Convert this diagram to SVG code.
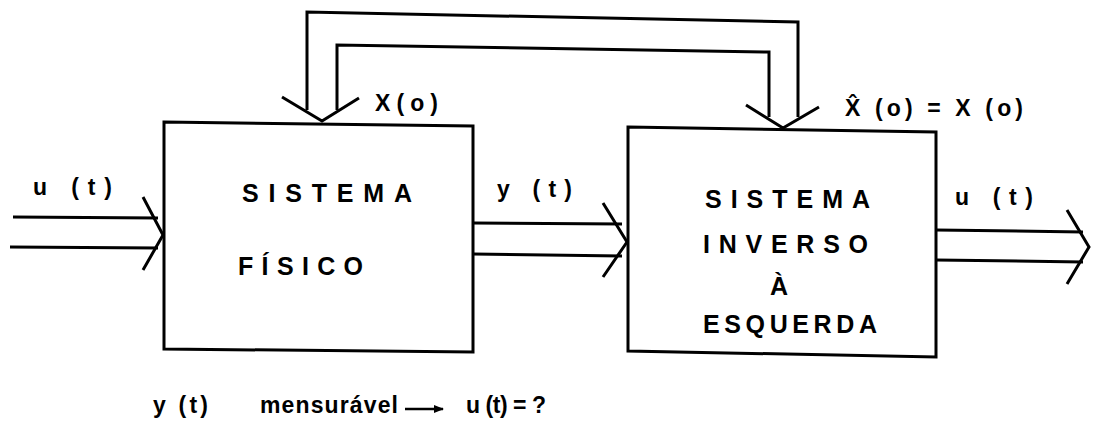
<svg xmlns="http://www.w3.org/2000/svg" width="1097" height="432" viewBox="0 0 1097 432">
<style>
.ln{fill:none;stroke:#000;stroke-width:3;stroke-linejoin:miter;stroke-linecap:butt}
.box{fill:none;stroke:#000;stroke-width:3}
.t{font-family:"Liberation Sans",Arial,sans-serif;font-weight:bold;fill:#000}
.big{font-size:25px}
.lab{font-size:23px}
</style>
<defs>
<marker id="sm" viewBox="0 0 10 10" refX="9" refY="5" markerWidth="4" markerHeight="4" orient="auto" markerUnits="strokeWidth">
<path d="M0,1 L10,5 L0,9 z" fill="#000"/>
</marker>
</defs>
<rect width="1097" height="432" fill="#fff"/>

<g id="connectors">
<!-- feedback outer -->
<polyline class="ln" points="307,110 307,12 798,22 798,117"/>
<!-- feedback inner -->
<polyline class="ln" points="337,110 337,45 769,52 769,117"/>
<polyline class="ln" points="282,97 322,121 359,98"/>
<polyline class="ln" points="746,105 783,128 819,107"/>
<!-- input -->
<line class="ln" x1="13" y1="217" x2="158" y2="218"/>
<line class="ln" x1="10" y1="247" x2="158" y2="248"/>
<polyline class="ln" points="143,197 163,235 143,270"/>
<!-- middle -->
<line class="ln" x1="473" y1="223" x2="622" y2="224"/>
<line class="ln" x1="473" y1="254" x2="622" y2="256"/>
<polyline class="ln" points="603,203 627,242 603,277"/>
<!-- output -->
<line class="ln" x1="936" y1="230" x2="1083" y2="232"/>
<line class="ln" x1="936" y1="260" x2="1083" y2="262"/>
<polyline class="ln" points="1067,210 1089,247 1067,284"/>
<!-- bottom arrow -->
<line x1="405" y1="409" x2="443" y2="409" stroke="#000" stroke-width="2.5" marker-end="url(#sm)"/>
</g>

<g id="sistema-fisico">
<polygon class="box" points="164,122 473,126 473,352 164,349"/>
<text class="t big" x="242" y="202" textLength="170" lengthAdjust="spacing">SISTEMA</text>
<text class="t big" x="238" y="275" textLength="125" lengthAdjust="spacing">FÍSICO</text>
</g>

<g id="sistema-inverso">
<polygon class="box" points="628,127 936,132 936,357 628,351"/>
<text class="t big" x="705" y="208" textLength="165" lengthAdjust="spacing">SISTEMA</text>
<text class="t big" x="703" y="253" textLength="165" lengthAdjust="spacing">INVERSO</text>
<text class="t big" x="770" y="295">À</text>
<text class="t big" x="703" y="333" textLength="174" lengthAdjust="spacing">ESQUERDA</text>
</g>

<g id="labels">
<text class="t lab" x="33" y="195" textLength="79" lengthAdjust="spacing">u (t)</text>
<text class="t lab" x="497" y="197" textLength="75" lengthAdjust="spacing">y (t)</text>
<text class="t lab" x="955" y="205" textLength="78" lengthAdjust="spacing">u (t)</text>
<text class="t lab" x="375" y="111" textLength="63" lengthAdjust="spacing">X(o)</text>
<text class="t lab" x="845" y="116" textLength="178" lengthAdjust="spacing">X̂ (o) = X (o)</text>
<text class="t lab" x="153" y="413" textLength="55" lengthAdjust="spacing">y (t)</text>
<text class="t lab" x="260" y="413" textLength="138" lengthAdjust="spacing">mensurável</text>
<text class="t lab" x="466" y="413" textLength="80" lengthAdjust="spacing">u (t) = ?</text>
</g>
</svg>
